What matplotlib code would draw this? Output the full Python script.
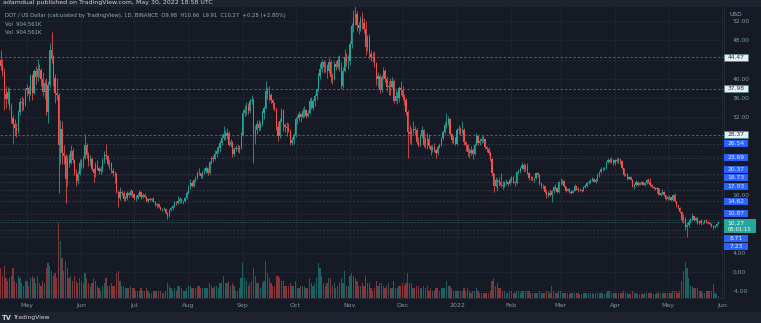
import numpy as np
import pandas as pd
import matplotlib
matplotlib.use("Agg")
import matplotlib.pyplot as plt
import matplotlib.dates as mdates
import matplotlib.transforms as mtransforms
from matplotlib.patches import Rectangle

# DOT / USD, daily candles 2021-04-16 .. 2022-05-30 (open = previous close)
first_open = 44.0

closes = [
    42.6, 41.5, 36.8, 35.9, 37.2, 34.2, 31.8, 30.6, 29.8, 29.2, 33.1, 35.2, 35.0, 34.6, 37.6,  # Apr 21
    38.1, 36.9, 40.6, 37.1, 41.6, 40.4, 42.1, 41.8, 40.0, 37.2, 39.1, 33.2, 38.8, 46.0, 44.2, 40.1,
    37.0, 36.6, 26.3, 29.6, 24.6, 24.1, 19.2, 23.4, 22.6, 25.0, 23.1, 20.6, 18.9, 20.3, 22.6,  # May
    22.0, 23.6, 26.4, 24.3, 22.9, 23.5, 21.3, 20.4, 22.2, 21.5, 21.0, 21.4, 23.2, 24.2, 24.0,
    22.4, 22.6, 21.0, 20.6, 20.4, 16.6, 15.4, 16.6, 16.3, 15.1, 15.3, 16.4, 15.9, 16.7, 16.1,  # Jun
    15.3, 15.4, 16.0, 16.6, 15.5, 15.9, 15.6, 14.6, 15.1, 14.9, 15.2, 14.5, 13.9, 14.0, 13.4, 13.0,
    13.0, 13.1, 12.3, 11.5, 12.8, 13.2, 13.6, 14.4, 14.2, 14.6, 15.1, 14.7, 14.7, 15.3, 16.4,  # Jul
    17.4, 18.5, 17.9, 19.0, 19.5, 20.6, 20.4, 19.8, 20.7, 20.9, 21.5, 20.4, 22.8, 23.6, 23.5, 24.4,
    25.0, 25.6, 26.8, 27.7, 28.6, 28.1, 28.8, 26.4, 27.0, 24.5, 25.5, 25.6, 25.4, 25.7, 28.4,  # Aug
    33.0, 33.6, 34.1, 33.4, 35.4, 35.7, 28.6, 29.3, 30.6, 29.9, 30.6, 33.0, 34.0, 37.4, 36.8,
    36.6, 35.6, 35.0, 33.9, 30.0, 28.1, 31.3, 33.6, 30.4, 30.0, 29.8, 29.1, 26.7, 27.3, 28.4,  # Sep
    31.6, 31.8, 32.7, 32.0, 33.3, 33.6, 32.3, 32.9, 35.5, 34.0, 35.4, 36.5, 37.6, 40.6, 42.1, 43.4,
    42.4, 42.6, 41.7, 43.4, 40.4, 40.0, 43.0, 42.4, 43.8, 42.4, 38.6, 41.6, 44.6, 43.4, 43.6,  # Oct
    47.2, 51.0, 52.6, 53.4, 51.2, 50.6, 52.4, 51.6, 50.4, 46.6, 48.4, 45.2, 44.6, 44.4, 43.2,
    40.0, 40.6, 37.6, 40.4, 41.6, 40.0, 38.4, 38.6, 38.4, 39.6, 35.4, 36.4, 36.0, 38.0, 37.6,  # Nov
    36.2, 35.6, 33.2, 29.0, 28.6, 29.2, 29.6, 29.4, 27.0, 26.4, 28.2, 29.4, 26.4, 27.4, 27.6, 26.0,
    25.2, 25.8, 25.2, 24.6, 25.8, 26.4, 27.8, 29.0, 30.4, 30.8, 31.6, 28.6, 27.4, 27.8, 26.6,  # Dec
    29.4, 29.6, 29.2, 29.4, 27.0, 26.4, 24.8, 24.6, 25.2, 24.4, 26.4, 28.2, 26.8, 27.2, 27.6, 27.6,
    25.8, 25.4, 24.6, 23.4, 20.4, 17.8, 19.0, 18.8, 18.6, 18.0, 17.8, 18.4, 18.6, 18.2, 19.0,  # Jan 22
    19.6, 18.6, 18.4, 20.8, 21.0, 21.6, 22.2, 21.4, 22.0, 20.6, 19.4, 19.4, 19.2, 19.4,
    20.6, 20.0, 18.2, 17.8, 17.8, 16.6, 15.8, 16.4, 16.0, 16.8, 17.6, 17.4, 16.6, 18.6,  # Feb
    18.6, 18.8, 17.8, 16.8, 17.2, 16.6, 16.4, 16.8, 17.9, 17.2, 17.0, 17.0, 16.8, 17.7, 17.9, 18.4,
    18.7, 19.0, 19.3, 18.7, 19.0, 20.1, 20.8, 21.3, 21.3, 21.5, 22.7, 23.2, 22.8, 23.1, 22.5,  # Mar
    23.1, 22.9, 23.4, 22.9, 21.5, 20.0, 20.3, 19.3, 19.7, 19.1, 17.7, 18.1, 18.6, 18.1, 18.5,
    18.6, 18.1, 18.5, 19.0, 18.6, 18.1, 17.5, 17.4, 17.1, 17.3, 16.0, 16.3, 16.6, 15.9, 15.2,  # Apr
    15.5, 15.5, 14.9, 16.0, 14.6, 13.8, 13.3, 12.5, 10.8, 10.9, 9.3, 9.7, 10.4, 10.9, 11.5,
    10.8, 11.2, 10.1, 10.6, 10.1, 10.2, 10.7, 10.3, 10.2, 10.0, 9.6, 9.3, 9.5, 9.98, 10.27,  # May
]

highs = [
    45.9, 44.2, 42.3, 38.6, 38.4, 38.0, 35.0, 32.6, 31.6, 30.9, 33.6, 36.0, 36.4, 36.0, 38.0,
    39.0, 38.6, 41.0, 40.9, 42.0, 42.6, 44.2, 43.0, 42.2, 41.4, 39.8, 40.2, 39.5, 47.5, 49.7, 45.0,
    41.0, 40.2, 37.0, 31.5, 31.2, 26.4, 24.5, 24.2, 24.5, 26.4, 25.6, 23.4, 21.4, 21.0, 23.4,
    23.4, 24.0, 28.6, 26.8, 24.9, 24.2, 23.8, 21.6, 22.8, 23.2, 21.8, 21.9, 23.6, 25.0, 26.6,
    24.2, 23.4, 22.8, 21.6, 20.9, 20.6, 17.0, 17.6, 17.0, 16.8, 15.8, 16.7, 16.6, 17.2, 17.0,
    16.2, 15.9, 16.3, 17.0, 16.7, 16.4, 16.3, 15.7, 15.4, 15.5, 15.4, 15.5, 14.6, 14.3, 14.3, 13.7,
    13.3, 13.5, 13.2, 12.4, 13.1, 13.5, 13.8, 14.7, 14.6, 15.8, 15.6, 15.3, 15.0, 15.5, 16.8,
    18.0, 19.2, 18.8, 19.3, 19.8, 20.9, 21.6, 20.6, 21.0, 21.6, 22.0, 21.6, 23.0, 24.0, 24.2, 25.2,
    25.9, 26.0, 27.4, 28.5, 30.2, 29.4, 29.8, 29.1, 27.6, 27.2, 25.9, 26.4, 26.2, 26.2, 28.9,
    33.8, 34.6, 35.2, 34.9, 35.9, 36.6, 36.0, 30.4, 31.4, 31.5, 31.2, 33.6, 34.4, 39.5, 38.4,
    38.6, 37.0, 35.9, 35.3, 34.0, 31.0, 31.9, 33.9, 33.8, 30.9, 31.1, 30.8, 29.7, 28.0, 28.7,
    32.0, 32.6, 33.4, 33.0, 34.0, 34.4, 33.8, 33.6, 36.0, 36.2, 35.8, 36.9, 38.0, 41.2, 43.2, 44.2,
    43.8, 43.6, 43.0, 44.4, 44.0, 41.2, 43.6, 43.6, 44.8, 45.0, 43.4, 42.4, 46.2, 45.3, 45.0,
    47.8, 51.6, 54.2, 55.0, 54.0, 51.8, 53.0, 53.8, 52.6, 52.0, 49.0, 49.2, 46.0, 45.6, 45.8,
    43.4, 41.4, 41.0, 40.8, 42.4, 42.0, 40.6, 39.6, 40.2, 40.4, 40.0, 37.6, 37.2, 38.6, 39.6,
    38.6, 36.8, 36.0, 33.6, 30.4, 29.8, 31.2, 30.2, 29.8, 28.0, 28.6, 30.2, 29.6, 27.9, 28.8, 28.6,
    26.2, 26.4, 26.8, 25.4, 26.2, 26.8, 28.0, 29.4, 31.0, 33.0, 32.2, 31.8, 28.8, 28.4, 28.0,
    29.8, 30.4, 30.0, 31.2, 29.8, 27.2, 26.6, 25.6, 26.0, 25.6, 26.8, 28.8, 28.4, 27.8, 28.2, 28.4,
    27.6, 26.0, 25.8, 25.0, 23.6, 20.6, 19.6, 19.2, 19.6, 20.4, 18.8, 18.8, 19.2, 18.9, 19.4,
    19.8, 19.8, 18.8, 21.0, 21.4, 21.8, 22.8, 22.6, 22.4, 22.6, 20.8, 19.9, 19.8, 19.6,
    20.8, 20.8, 20.2, 18.6, 18.2, 18.0, 17.2, 16.8, 17.2, 17.0, 17.8, 18.2, 17.6, 18.8,
    19.4, 19.2, 19.0, 17.9, 17.4, 17.4, 17.0, 17.2, 18.2, 17.9, 17.5, 17.3, 17.2, 17.9, 18.2, 18.7,
    19.0, 19.2, 19.6, 19.5, 19.4, 20.4, 21.0, 21.8, 21.7, 21.8, 22.9, 23.7, 23.6, 23.8, 23.4,
    23.4, 23.6, 23.9, 23.5, 23.2, 21.6, 20.6, 20.6, 19.9, 19.9, 19.3, 18.4, 19.0, 18.8, 18.7,
    18.9, 18.8, 18.7, 19.3, 19.4, 19.4, 18.3, 17.8, 17.6, 17.5, 17.4, 16.6, 17.2, 16.7, 16.0,
    15.7, 16.0, 15.6, 16.2, 16.3, 14.7, 13.9, 13.5, 12.6, 12.0, 11.3, 10.4, 11.0, 11.2, 12.2,
    11.6, 11.4, 11.3, 10.8, 10.9, 10.4, 10.8, 11.0, 10.5, 10.4, 10.2, 9.8, 9.7, 10.1, 10.66,
]

lows = [
    41.8, 40.5, 33.5, 34.0, 34.8, 33.6, 30.9, 26.7, 28.4, 27.9, 28.8, 32.5, 33.4, 33.5, 34.3,
    36.4, 35.5, 36.6, 35.7, 36.8, 39.0, 39.6, 40.3, 38.6, 36.5, 35.8, 32.5, 30.9, 38.4, 43.2, 38.6,
    35.0, 35.6, 16.3, 22.3, 22.4, 22.4, 14.3, 17.8, 21.8, 22.4, 22.6, 20.1, 17.8, 18.3, 20.0,
    21.4, 21.6, 23.4, 23.6, 22.0, 22.2, 21.0, 18.6, 19.7, 21.2, 20.3, 20.2, 20.8, 22.6, 23.5,
    22.0, 21.4, 20.6, 19.8, 18.5, 16.3, 13.4, 15.0, 15.8, 14.8, 14.6, 15.0, 15.6, 15.7, 15.6,
    15.0, 14.8, 15.2, 15.7, 15.2, 15.3, 15.4, 14.4, 14.3, 14.6, 14.7, 14.4, 13.7, 13.3, 13.2, 12.8,
    12.7, 12.8, 12.1, 11.0, 11.3, 12.6, 12.9, 13.4, 13.9, 14.0, 14.2, 14.3, 14.1, 14.5, 15.1,
    16.2, 17.2, 17.5, 17.6, 18.6, 19.2, 20.0, 19.4, 19.4, 20.2, 20.5, 20.0, 20.2, 22.4, 22.8, 23.1,
    23.8, 24.6, 24.8, 26.4, 27.3, 27.4, 27.5, 26.0, 25.8, 23.9, 24.0, 25.0, 24.9, 24.7, 25.4,
    28.2, 32.4, 32.6, 32.8, 33.0, 34.7, 22.6, 26.6, 28.6, 29.2, 29.5, 30.2, 31.6, 33.7, 35.9,
    35.5, 35.0, 33.8, 33.4, 29.5, 27.1, 27.8, 31.0, 29.2, 29.0, 28.2, 28.9, 26.4, 26.2, 26.6,
    28.0, 30.6, 31.2, 31.0, 31.8, 32.0, 31.8, 32.0, 32.8, 33.8, 33.6, 34.4, 35.6, 37.4, 40.0, 41.4,
    41.2, 41.4, 40.2, 41.2, 39.4, 38.9, 39.8, 41.8, 42.0, 41.6, 37.8, 38.0, 41.4, 42.6, 42.0,
    42.8, 46.4, 49.6, 51.2, 50.0, 49.2, 50.0, 50.4, 49.4, 45.0, 45.8, 44.2, 43.6, 43.4, 42.4,
    38.8, 38.4, 37.0, 37.2, 40.0, 39.4, 37.4, 36.6, 36.6, 38.0, 35.0, 35.4, 34.8, 35.2, 36.6,
    35.6, 34.6, 32.6, 23.6, 26.8, 26.4, 28.6, 28.4, 26.6, 25.8, 26.0, 27.8, 25.8, 25.6, 25.4, 25.6,
    24.2, 24.8, 24.8, 23.6, 24.2, 25.6, 26.0, 27.4, 28.6, 29.8, 30.4, 28.2, 26.8, 26.6, 26.2,
    26.4, 28.6, 28.4, 28.6, 26.2, 25.0, 24.0, 23.6, 24.2, 23.5, 24.2, 26.2, 26.4, 26.4, 26.8, 27.0,
    25.4, 24.8, 24.2, 23.0, 19.8, 16.6, 17.6, 16.8, 17.8, 17.6, 17.2, 17.6, 18.0, 17.8, 18.0,
    18.6, 18.4, 17.8, 18.2, 20.4, 20.6, 21.4, 20.8, 21.0, 20.2, 19.0, 19.0, 18.8, 18.6,
    19.2, 19.6, 18.0, 17.4, 17.2, 16.4, 15.4, 15.6, 15.8, 14.5, 16.4, 17.0, 16.4, 16.4,
    18.0, 18.3, 17.5, 16.6, 16.7, 16.4, 16.1, 16.3, 16.8, 16.9, 16.6, 16.8, 16.5, 16.7, 17.3, 17.6,
    18.3, 18.4, 18.9, 18.6, 18.4, 18.9, 19.7, 20.6, 20.9, 21.1, 21.4, 22.5, 22.5, 22.6, 22.1,
    22.2, 22.6, 22.6, 22.4, 21.3, 19.8, 19.8, 19.1, 19.2, 19.0, 17.6, 17.2, 17.8, 17.9, 18.0,
    18.3, 18.0, 17.8, 18.3, 18.4, 17.8, 17.3, 17.1, 16.9, 16.4, 15.9, 15.8, 16.1, 15.7, 15.0,
    14.9, 15.0, 14.6, 14.8, 14.4, 13.4, 13.0, 12.2, 10.4, 10.1, 8.7, 7.23, 9.4, 10.1, 10.6,
    10.5, 10.6, 10.0, 9.9, 9.8, 9.9, 10.1, 10.1, 9.9, 9.8, 9.4, 9.0, 9.2, 9.4, 9.91,
]

# daily volume, millions of DOT
volumes = [
    12, 9, 13, 8, 7, 8, 9, 12, 7, 6, 9, 8, 6, 5, 7,
    7, 5, 8, 9, 8, 6, 9, 6, 5, 7, 6, 12, 14, 13, 11, 9,
    10, 8, 30, 23, 16, 11, 15, 12, 8, 9, 7, 9, 7, 6, 8,
    7, 6, 10, 8, 6, 5, 6, 8, 7, 5, 4, 3, 5, 6, 8,
    5, 5, 6, 5, 5, 10, 11, 7, 5, 5, 4, 4, 4, 5, 4,
    4, 3, 3, 3, 4, 3, 3, 4, 3, 2, 2, 3, 3, 3, 3, 3,
    2, 2, 3, 6, 5, 4, 3, 4, 3, 5, 5, 4, 3, 3, 4,
    5, 5, 4, 4, 4, 5, 5, 4, 4, 4, 4, 4, 6, 5, 4, 5,
    5, 4, 6, 6, 9, 6, 6, 7, 5, 6, 5, 3, 3, 4, 8,
    14, 8, 7, 5, 6, 7, 12, 9, 6, 6, 4, 6, 7, 15, 10,
    8, 6, 5, 5, 9, 9, 8, 7, 7, 5, 5, 5, 6, 5, 5,
    7, 4, 4, 5, 5, 5, 4, 4, 8, 6, 5, 6, 8, 14, 12, 9,
    6, 5, 6, 8, 8, 5, 6, 4, 5, 6, 8, 6, 11, 5, 5,
    9, 10, 9, 8, 7, 5, 5, 6, 5, 9, 6, 6, 4, 3, 4,
    7, 5, 6, 6, 5, 4, 5, 6, 4, 4, 7, 4, 4, 5, 5,
    6, 5, 6, 10, 6, 6, 4, 4, 5, 5, 4, 4, 5, 4, 5, 3,
    4, 3, 3, 4, 4, 3, 4, 4, 4, 7, 5, 5, 4, 3, 3,
    3, 3, 3, 3, 4, 3, 4, 3, 2, 3, 3, 4, 3, 2, 2, 2,
    2, 2, 2, 3, 7, 8, 5, 6, 4, 4, 3, 3, 2, 2, 3,
    3, 2, 2, 3, 3, 2, 3, 3, 3, 3, 3, 2, 2, 2,
    2, 2, 3, 2, 2, 2, 3, 3, 2, 5, 3, 2, 2, 3,
    3, 2, 2, 2, 2, 1.5, 2, 2, 2, 2, 2, 1.5, 1.5, 2, 2, 2,
    2, 2, 2, 1.5, 2, 2, 2, 2, 2, 1.5, 2, 3, 3, 2, 2,
    2, 2, 2, 2, 2, 3, 2, 2, 1.5, 1.5, 3, 2, 2, 1.5, 1.5,
    1.5, 1.5, 2, 2, 2, 2, 2, 1.5, 1.5, 2, 2.5, 2, 2, 2, 2,
    2, 2, 2, 3, 3, 3, 2, 3, 7, 11, 14.5, 12, 8, 5, 5,
    4, 4, 4, 3, 3, 2, 2, 3, 3, 3, 3, 5.5, 2, 1.5, 0.9,
]

month_starts = ['2021-05-01', '2021-06-01', '2021-07-01', '2021-08-01', '2021-09-01',
                '2021-10-01', '2021-11-01', '2021-12-01', '2022-01-01', '2022-02-01',
                '2022-03-01', '2022-04-01', '2022-05-01', '2022-06-01']
month_labels = ['May', 'Jun', 'Jul', 'Aug', 'Sep', 'Oct', 'Nov', 'Dec', '2022',
                'Feb', 'Mar', 'Apr', 'May', 'Jun']

price_ticks = list(range(-4, 53, 4))
# scale labels that sit under the price boxes are not shown
hidden_ticks = [8, 12, 20, 24, 28, 44]

# price markers on the right scale
white_levels = [44.47, 37.98, 28.37]
blue_levels = [26.54, 23.69, 20.37, 18.73, 17.03, 14.62, 10.87, 8.71, 7.23]
last_price = 10.27

UP = '#26a69a'
DOWN = '#ef5350'
BG = '#161a25'
BAND = '#1f2330'
TXT = '#7b9c9e'
GRID = '#222632'


def main():
    dates = pd.date_range('2021-04-16', '2022-05-30', freq='D')
    c = np.array(closes)
    h = np.array(highs)
    l = np.array(lows)
    v = np.array(volumes, dtype=float)
    assert len(c) == len(h) == len(l) == len(v) == len(dates)
    o = np.concatenate([[first_open], c[:-1]])
    x = mdates.date2num(dates)
    col = np.where(c >= o, UP, DOWN)

    fig = plt.figure(figsize=(7.61, 3.23), dpi=100)
    fig.patch.set_facecolor(BG)
    W, H = 761.0, 323.0

    # top and bottom strips
    fig.patches.append(Rectangle((0, 1 - 7 / H), 1, 7 / H, transform=fig.transFigure,
                                 facecolor=BAND, edgecolor='none', zorder=-5))
    fig.patches.append(Rectangle((0, 0), 1, 11 / H, transform=fig.transFigure,
                                 facecolor=BAND, edgecolor='none', zorder=-5))

    ax = fig.add_axes([0, 25 / H, 724 / W, 291 / H])
    ax.set_facecolor(BG)
    ax.set_xlim(mdates.date2num(pd.Timestamp('2021-04-15 15:00')),
                mdates.date2num(pd.Timestamp('2022-06-02 03:30')))
    ax.set_ylim(-5.38, 54.87)

    # volume overlay
    axv = ax.twinx()
    axv.set_ylim(0, 116.4)
    axv.bar(x, v, width=0.7, color=col, alpha=0.5, linewidth=0)
    axv.axis('off')
    axv.set_xlim(ax.get_xlim())

    # grid
    for p in price_ticks:
        ax.axhline(p, color=GRID, lw=0.5, zorder=0)
    mx = mdates.date2num(pd.to_datetime(month_starts))
    for m in mx:
        ax.axvline(m, color=GRID, lw=0.6, zorder=0)

    # level lines
    for lv in white_levels:
        ax.axhline(lv, color='#3f6b70', lw=0.7, ls=(0, (2.5, 2)), zorder=1)
    for lv in blue_levels:
        ax.axhline(lv, color='#333846', lw=0.6, ls=(0, (2.5, 2)), zorder=1)
    ax.axhline(last_price, color=UP, lw=0.5, ls=(0, (1, 1.5)), alpha=0.7, zorder=1)

    # candles
    ax.vlines(x, l, h, colors=col, lw=0.55, zorder=3)
    body = np.maximum(np.abs(c - o), 0.06)
    ax.bar(x, body, bottom=np.minimum(o, c), width=0.68, color=col, linewidth=0, zorder=4)

    # axes styling
    for s in ['top', 'left']:
        ax.spines[s].set_visible(False)
    ax.spines['right'].set_color('#2a2e39')
    ax.spines['bottom'].set_color('#2a2e39')
    ax.spines['right'].set_linewidth(0.6)
    ax.spines['bottom'].set_linewidth(0.6)
    ax.yaxis.tick_right()
    ax.set_yticks(price_ticks)
    ax.set_yticklabels(['' if p in hidden_ticks else '%.2f' % p for p in price_ticks])
    ax.set_xticks(mx)
    ax.set_xticklabels(month_labels)
    ax.tick_params(axis='y', length=0, pad=6, labelsize=4.3, labelcolor=TXT)
    ax.tick_params(axis='x', length=0, pad=3.5, labelsize=4.5, labelcolor=TXT)

    # price boxes on the right scale
    tr = mtransforms.blended_transform_factory(ax.transAxes, ax.transData)
    bw = 24 / 724.0
    bh = 7 / 4.83
    white_pos = [44.47, 37.98, 28.37]
    blue_pos = [26.54, 23.69, 21.3, 19.5, 17.8, 14.62, 12.2, 7.0, 5.35]
    for lv, yp in zip(white_levels, white_pos):
        ax.add_patch(Rectangle((1.0, yp - bh / 2), bw, bh, transform=tr, clip_on=False,
                               facecolor='#e9eef0', edgecolor='#4a8a8c', lw=0.5, zorder=10))
        ax.text(1.0 + bw / 2, yp, '%.2f' % lv, transform=tr, ha='center', va='center',
                fontsize=4.3, color='#2a3a4a', zorder=11, clip_on=False)
    for lv, yp in zip(blue_levels, blue_pos):
        ax.add_patch(Rectangle((1.0, yp - bh / 2), bw, bh, transform=tr, clip_on=False,
                               facecolor='#2962ff', edgecolor='none', zorder=10))
        ax.text(1.0 + bw / 2, yp, '%.2f' % lv, transform=tr, ha='center', va='center',
                fontsize=4.3, color='#e8ecff', zorder=11, clip_on=False)
    gy = 9.52
    ax.add_patch(Rectangle((1.0, gy - 1.45), 32 / 724.0, 2.9, transform=tr, clip_on=False,
                           facecolor='#26a69a', edgecolor='none', zorder=10))
    ax.text(1.0 + bw / 2, gy + 0.62, '%.2f' % last_price, transform=tr, ha='center',
            va='center', fontsize=4.3, color='white', zorder=11, clip_on=False)
    ax.text(1.0 + 16 / 724.0, gy - 0.62, '05:01:15', transform=tr, ha='center',
            va='center', fontsize=3.8, color='white', zorder=11, clip_on=False)

    # texts
    def fx(px):
        return px / W

    def fy(py):
        return 1 - py / H

    fig.text(fx(3), fy(2.5), 'adamdual published on TradingView.com, May 30, 2022 18:58 UTC',
             fontsize=4.5, color='#d1d4dc', va='center', ha='left')
    fig.text(fx(5), fy(15), 'DOT / US Dollar (calculated by TradingView), 1D, BINANCE  '
             'O9.98  H10.66  L9.91  C10.27  +0.28 (+2.80%)',
             fontsize=3.8, color='#8fb0ad', va='center', ha='left')
    fig.text(fx(5), fy(24), 'Vol  904.561K', fontsize=3.8, color='#8fb0ad', va='center')
    fig.text(fx(5), fy(32), 'Vol  904.561K', fontsize=3.8, color='#8fb0ad', va='center')
    fig.text(fx(729), fy(14), 'USD', fontsize=4.3, color='#9aa4b0', va='center')
    fig.text(fx(2), fy(318), 'TV', fontsize=4.8, color='#d1d4dc', va='center',
             fontweight='bold')
    fig.text(fx(13), fy(318), 'TradingView', fontsize=4.3, color='#d1d4dc', va='center')

    fig.savefig('out.png', dpi=100, facecolor=BG)


if __name__ == "__main__":
    main()
